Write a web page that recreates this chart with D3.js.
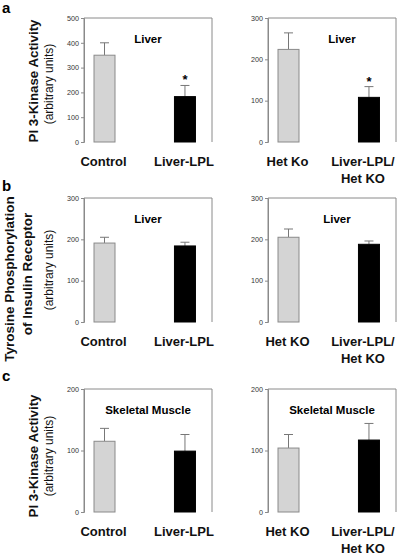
<!DOCTYPE html>
<html><head><meta charset="utf-8">
<script src="https://cdn.jsdelivr.net/npm/d3@7"></script>
<style>
body{margin:0;background:#fff;}
svg{display:block;font-family:"Liberation Sans",Arial,sans-serif;}
</style></head>
<body><svg id="c" width="400" height="556"></svg>
<script>
// ---- data ----
const groupsLeft = ["Control", "Liver-LPL"];
const groupsRightA = ["Het Ko", "Liver-LPL/\nHet KO"];
const groupsRight = ["Het KO", "Liver-LPL/\nHet KO"];

const aLeftMeans = [350, 183];   const aLeftErr = [50, 45];
const aRightMeans = [224, 108];  const aRightErr = [40, 26];
const bLeftMeans = [191, 184];   const bLeftErr = [14, 9];
const bRightMeans = [205, 188];  const bRightErr = [20, 8];
const cLeftMeans = [115, 99];    const cLeftErr = [21, 27];
const cRightMeans = [104, 117];  const cRightErr = [22, 27];

const aLeftTicks = [0, 100, 200, 300, 400, 500];
const aRightTicks = [0, 100, 200, 300];
const bTicks = [0, 100, 200, 300];
const cTicks = [0, 100, 200];

const tissueA = "Liver", tissueB = "Liver", tissueC = "Skeletal Muscle";
const significant = { aLeft: [false, true], aRight: [false, true] };

// ---- layout ----
const svg = d3.select("#c");
const cols = [[84, 212], [268, 396]];
const rows = [[18, 142], [198, 322], [389, 512]];
const grey = "#8a8a8a";

function panel(col, row, groups, means, errs, ticks, title, titleDx, stars) {
  const [x0, x1] = cols[col], [y0, y1] = rows[row];
  const x = d3.scaleBand().domain(groups).range([x0, x1])
    .paddingInner(0.739).paddingOuter(0.165).align(0.377);
  const y = d3.scaleLinear().domain([0, d3.max(ticks)]).range([y1, y0]);
  const g = svg.append("g");
  // box
  g.append("path").attr("d", `M${x0},${y1}V${y0}H${x1}V${y1}`)
    .attr("fill", "none").attr("stroke", grey).attr("stroke-width", 1);
  // axis
  const ax = g.append("g").attr("transform", `translate(${x0},0)`)
    .call(d3.axisLeft(y).tickValues(ticks).tickSize(3).tickPadding(2).tickFormat(d3.format("d")));
  ax.select(".domain").attr("stroke", grey);
  ax.selectAll(".tick line").attr("stroke", grey);
  ax.selectAll(".tick text").attr("font-size", 7.2).attr("fill", "#333")
    .attr("font-family", "Liberation Sans, Arial, sans-serif");
  // bars
  const data = groups.map((k, i) => ({k, v: means[i], e: errs[i], i}));
  const bw = x.bandwidth();
  // error bars (upward)
  g.selectAll(".eb").data(data).enter().append("path")
    .attr("d", d => { const cx = x(d.k) + bw / 2; return `M${cx},${y(d.v)}V${y(d.v + d.e)}M${cx - 4.5},${y(d.v + d.e)}H${cx + 4.5}`; })
    .attr("stroke", "#777").attr("stroke-width", 1).attr("fill", "none");
  g.selectAll(".bar").data(data).enter().append("rect")
    .attr("x", d => x(d.k)).attr("width", bw)
    .attr("y", d => y(d.v)).attr("height", d => y(0) - y(d.v))
    .attr("fill", d => d.i === 0 ? "#d4d4d4" : "#000")
    .attr("stroke", d => d.i === 0 ? "#8a8a8a" : "#000").attr("stroke-width", 1);
  if (stars) {
    g.selectAll(".star").data(data.filter(d => stars[d.i])).enter().append("text")
      .attr("x", d => x(d.k) + bw / 2).attr("y", d => y(d.v + d.e) - 1)
      .attr("text-anchor", "middle").attr("font-size", 13).attr("font-weight", "bold").text("*");
  }
  // title
  g.append("text").attr("x", (x0 + x1) / 2 + titleDx).attr("y", y0 + 25)
    .attr("text-anchor", "middle").attr("font-size", 11.5).attr("font-weight", "bold").text(title);
  // x labels
  data.forEach(d => {
    const lines = d.k.split("\n");
    const cx = x(d.k) + bw / 2 + (lines.length > 1 ? -6 : -1);
    const t = g.append("text").attr("text-anchor", "middle").attr("font-size", 13)
      .attr("font-weight", "bold").attr("fill", "#111");
    lines.forEach((l, j) => t.append("tspan").attr("x", cx).attr("y", y1 + 24 + j * 17).text(l));
  });
}

panel(0, 0, groupsLeft, aLeftMeans, aLeftErr, aLeftTicks, tissueA, 0, significant.aLeft);
panel(1, 0, groupsRightA, aRightMeans, aRightErr, aRightTicks, tissueA, 10, significant.aRight);
panel(0, 1, groupsLeft, bLeftMeans, bLeftErr, bTicks, tissueB, 0, null);
panel(1, 1, groupsRight, bRightMeans, bRightErr, bTicks, tissueB, 5, null);
panel(0, 2, groupsLeft, cLeftMeans, cLeftErr, cTicks, tissueC, 0, null);
panel(1, 2, groupsRight, cRightMeans, cRightErr, cTicks, tissueC, 0, null);

// panel letters
[["a", 13], ["b", 191], ["c", 381]].forEach(([l, yy]) =>
  svg.append("text").attr("x", 2).attr("y", yy).attr("font-size", 15).attr("font-weight", "bold").text(l));

// y titles
function ytitle(xb, yc, txt, size, bold) {
  svg.append("text").attr("transform", `translate(${xb},${yc}) rotate(-90)`)
    .attr("text-anchor", "middle").attr("font-size", size)
    .attr("font-weight", bold ? "bold" : "normal").attr("fill", "#111").text(txt);
}
ytitle(38, 81, "PI 3-Kinase Activity", 13.3, true);
ytitle(53, 84, "(arbitrary units)", 12, false);
ytitle(14, 279, "Tyrosine Phosphorylation", 13.5, true);
ytitle(32, 274, "of Insulin Receptor", 13.5, true);
ytitle(53, 270, "(arbitrary units)", 12, false);
ytitle(38, 456, "PI 3-Kinase Activity", 13.3, true);
ytitle(53, 456, "(arbitrary units)", 12, false);
</script></body></html>
